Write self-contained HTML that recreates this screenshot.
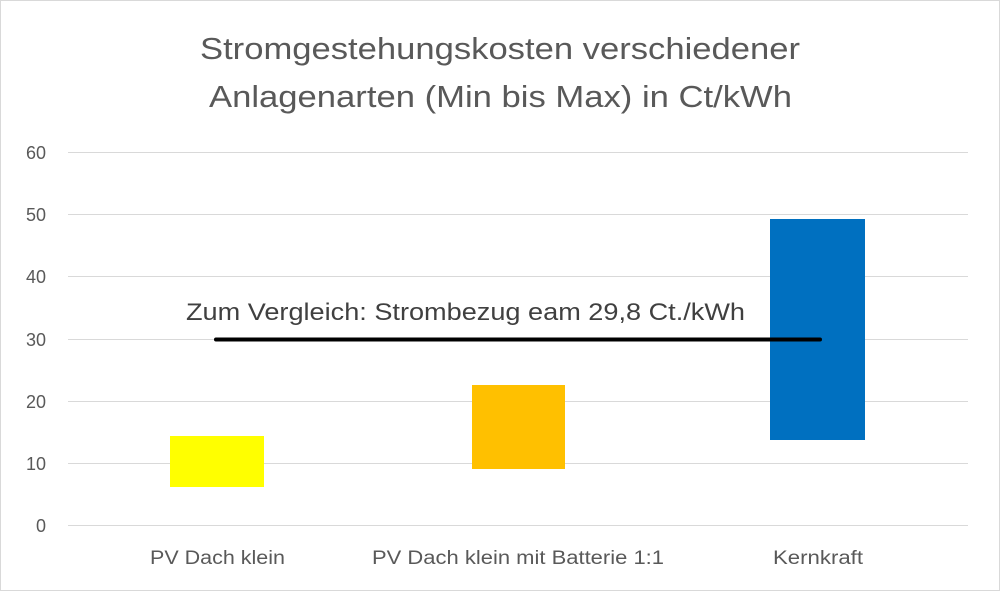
<!DOCTYPE html>
<html><head><meta charset="utf-8"><style>
body{margin:0;background:#fff}
svg{display:block}
text{font-family:"Liberation Sans",sans-serif;fill:#595959}
</style></head><body>
<svg width="1000" height="591" viewBox="0 0 1000 591">
<rect x="0.5" y="0.5" width="999" height="590" fill="#fff" stroke="#d9d9d9"/>
<text x="200" y="59" font-size="31" textLength="600" lengthAdjust="spacingAndGlyphs">Stromgestehungskosten verschiedener</text>
<text x="209" y="107" font-size="31" textLength="583" lengthAdjust="spacingAndGlyphs">Anlagenarten (Min bis Max) in Ct/kWh</text>
<g stroke="#d9d9d9" stroke-width="1">
<line x1="68" x2="968" y1="152.5" y2="152.5"/>
<line x1="68" x2="968" y1="214.5" y2="214.5"/>
<line x1="68" x2="968" y1="276.5" y2="276.5"/>
<line x1="68" x2="968" y1="339.5" y2="339.5"/>
<line x1="68" x2="968" y1="401.5" y2="401.5"/>
<line x1="68" x2="968" y1="463.5" y2="463.5"/>
<line x1="68" x2="968" y1="525.5" y2="525.5"/>
</g>
<g font-size="18" text-anchor="end">
<text x="46" y="159">60</text>
<text x="46" y="221">50</text>
<text x="46" y="283">40</text>
<text x="46" y="346">30</text>
<text x="46" y="408">20</text>
<text x="46" y="470">10</text>
<text x="46" y="532">0</text>
</g>
<rect x="170" y="436" width="94" height="51" fill="#ffff00"/>
<rect x="472" y="385" width="93" height="84" fill="#ffc000"/>
<rect x="770" y="219" width="95" height="221" fill="#0070c0"/>
<line x1="216" x2="820" y1="339.5" y2="339.5" stroke="#000" stroke-width="4" stroke-linecap="round"/>
<text x="186" y="320" font-size="24" style="fill:#404040" textLength="559" lengthAdjust="spacingAndGlyphs">Zum Vergleich: Strombezug eam 29,8 Ct./kWh</text>
<g font-size="19">
<text x="150" y="564" textLength="135" lengthAdjust="spacingAndGlyphs">PV Dach klein</text>
<text x="372" y="564" textLength="292" lengthAdjust="spacingAndGlyphs">PV Dach klein mit Batterie 1:1</text>
<text x="773" y="564" textLength="90" lengthAdjust="spacingAndGlyphs">Kernkraft</text>
</g>
</svg>
</body></html>
